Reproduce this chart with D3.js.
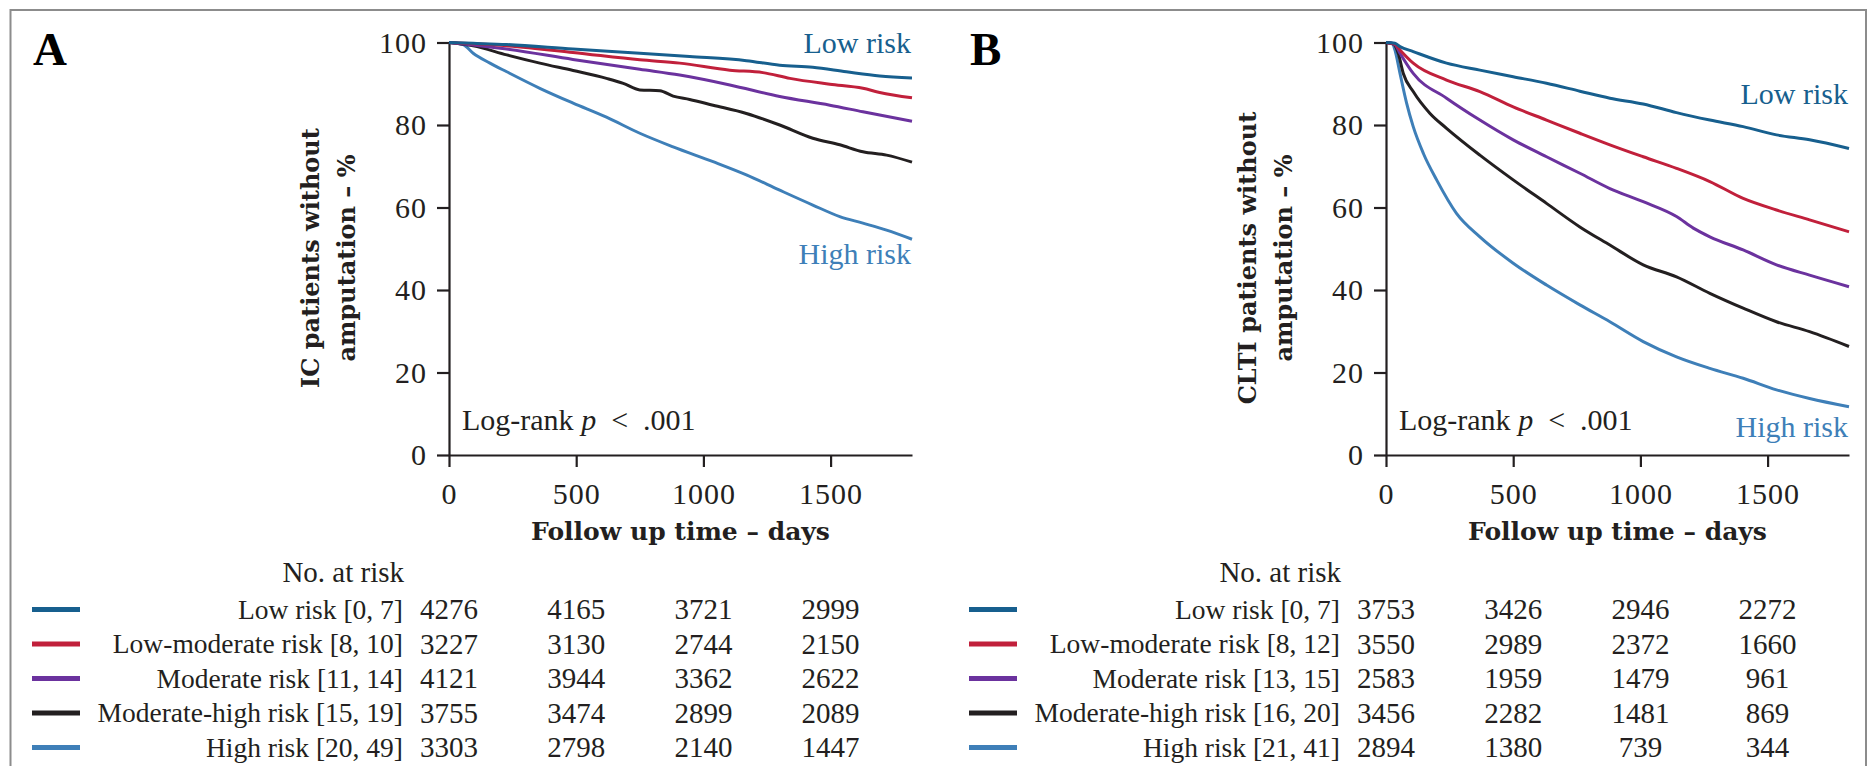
<!DOCTYPE html>
<html>
<head>
<meta charset="utf-8">
<script src="https://cdn.jsdelivr.net/npm/d3@7"></script>
<style>
  body { margin: 0; background: #fff; }
  svg { display: block; }
</style>
</head>
<body>
<div class="chart"></div>
<script>
// survival curves: [day, % without amputation]
const icLow = [[0,100],[95,99.8],[227,99.5],[487,98.4],[750,97.4],[946,96.6],[1169,95.6],[1300,94.5],[1430,94.0],[1562,92.9],[1693,91.9],[1820,91.4]]
const icLowMod = [[0,100],[95,99.7],[227,99.2],[487,97.6],[750,95.8],[907,95.0],[1104,93.3],[1234,92.7],[1340,91.3],[1497,89.9],[1627,88.9],[1693,87.9],[1820,86.6]]
const icMod = [[0,100],[95,99.4],[227,98.4],[487,95.9],[750,93.5],[907,92.1],[1104,89.7],[1300,86.9],[1497,84.8],[1627,83.2],[1820,80.9]]
const icModHigh = [[0,100],[95,99.2],[227,97.0],[357,95.0],[488,93.2],[619,91.3],[685,90.1],[750,88.5],[829,88.3],[881,87.0],[946,86.2],[1038,84.8],[1169,82.8],[1300,80.0],[1430,76.8],[1536,75.2],[1627,73.5],[1720,72.7],[1820,71.0]]
const icHigh = [[0,100],[55,99.5],[95,97.4],[161,95.0],[227,92.9],[357,88.9],[488,85.3],[619,81.9],[750,78.0],[881,74.7],[1038,71.1],[1169,67.9],[1300,64.2],[1430,60.6],[1536,57.8],[1627,56.2],[1720,54.5],[1820,52.3]]

const cltiLow = [[0,100],[35,99.8],[55,99.0],[107,97.8],[238,95.0],[369,93.3],[500,91.7],[631,90.1],[762,88.2],[880,86.5],[1011,85.1],[1142,83.0],[1273,81.2],[1404,79.6],[1535,77.6],[1665,76.4],[1820,74.3]]
const cltiLowMod = [[0,100],[35,99.6],[55,98.2],[107,95.0],[238,90.9],[369,88.1],[500,84.4],[631,81.2],[762,78.0],[880,75.2],[1011,72.3],[1142,69.5],[1273,66.3],[1404,62.2],[1535,59.4],[1665,57.0],[1820,54.1]]
const cltiMod = [[0,100],[35,99.5],[55,97.4],[107,92.5],[238,86.5],[369,81.2],[500,76.4],[631,72.3],[762,68.3],[880,64.6],[1011,61.4],[1142,57.8],[1208,55.0],[1273,52.9],[1404,49.7],[1535,46.1],[1665,43.6],[1820,40.8]]
const cltiModHigh = [[0,100],[30,99.6],[48,97.4],[68,92.5],[107,88.1],[173,82.8],[238,79.2],[369,72.7],[500,66.7],[631,61.0],[762,55.3],[880,50.9],[1011,46.1],[1142,43.2],[1273,39.2],[1404,35.6],[1535,32.3],[1665,29.9],[1820,26.3]]
const cltiHigh = [[0,100],[25,99.8],[35,98.2],[55,92.5],[81,85.3],[107,79.6],[147,73.1],[199,66.7],[277,58.6],[369,52.9],[500,46.5],[631,41.2],[762,36.4],[880,32.3],[1011,27.5],[1142,23.8],[1273,21.0],[1404,18.6],[1535,15.8],[1665,13.7],[1820,11.7]]

// number at risk table
const tickDays = [0, 500, 1000, 1500]
const yTicks = [0, 20, 40, 60, 80, 100]
const icGroups = ["Low risk [0, 7]", "Low-moderate risk [8, 10]", "Moderate risk [11, 14]", "Moderate-high risk [15, 19]", "High risk [20, 49]"]
const icAtRisk = [[4276,4165,3721,2999],[3227,3130,2744,2150],[4121,3944,3362,2622],[3755,3474,2899,2089],[3303,2798,2140,1447]]
const cltiGroups = ["Low risk [0, 7]", "Low-moderate risk [8, 12]", "Moderate risk [13, 15]", "Moderate-high risk [16, 20]", "High risk [21, 41]"]
const cltiAtRisk = [[3753,3426,2946,2272],[3550,2989,2372,1660],[2583,1959,1479,961],[3456,2282,1481,869],[2894,1380,739,344]]

const colors = ["#175f8e", "#c1203b", "#6b329e", "#231f20", "#3e7fb8"]
const serif = "'Liberation Serif', 'Times New Roman', serif"
const slab = "'DejaVu Serif', serif"

const W = 1868, H = 766
const svg = d3.select(".chart").append("svg")
    .attr("width", W)
    .attr("height", H)

// grey frame round the figure
svg.append("rect")
    .attr("x", 10.5).attr("y", 10)
    .attr("width", 1855.5).attr("height", 800)
    .attr("fill", "none")
    .attr("stroke", "#8c8c8c")
    .attr("stroke-width", 2)

function drawPanel(p) {
    const x = d3.scaleLinear().domain([0, 1820]).range([p.x0, p.x0 + 463])
    const y = d3.scaleLinear().domain([0, 100]).range([455, 42.5])

    const g = svg.append("g")

    g.append("text")
        .attr("x", p.x0 - 416).attr("y", 65)
        .attr("font-family", serif).attr("font-weight", "bold")
        .attr("font-size", 47)
        .text(p.letter)

    const yAxis = d3.axisLeft(y).tickValues(yTicks).tickSize(12).tickSizeOuter(0).tickPadding(10)
    const xAxis = d3.axisBottom(x).tickValues(tickDays).tickFormat(d3.format("d"))
        .tickSize(12).tickSizeOuter(0).tickPadding(16)

    const ya = g.append("g").attr("transform", `translate(${p.x0},0)`).call(yAxis)
    const xa = g.append("g").attr("transform", "translate(0,455)").call(xAxis)
    for (const a of [ya, xa]) {
        a.attr("font-family", serif).attr("font-size", 30)
        a.selectAll("path, line").attr("stroke", "#231f20").attr("stroke-width", 2.2)
        a.selectAll("text").attr("fill", "#231f20").attr("letter-spacing", 1)
    }

    // y axis title, two lines
    g.append("text")
        .attr("transform", `translate(${p.x0 - 130},258) rotate(-90)`)
        .attr("text-anchor", "middle")
        .attr("font-family", slab).attr("font-weight", "bold").attr("font-size", 24)
        .attr("fill", "#231f20")
        .text(p.yTitle)
    g.append("text")
        .attr("transform", `translate(${p.x0 - 94},258) rotate(-90)`)
        .attr("text-anchor", "middle")
        .attr("font-family", slab).attr("font-weight", "bold").attr("font-size", 24)
        .attr("fill", "#231f20")
        .text("amputation \u2013 %")

    g.append("text")
        .attr("x", x(910)).attr("y", 540)
        .attr("text-anchor", "middle")
        .attr("font-family", slab).attr("font-weight", "bold").attr("font-size", 25)
        .attr("fill", "#231f20")
        .text("Follow up time \u2013 days")

    const line = d3.line()
        .x(d => x(d[0]))
        .y(d => y(d[1]))
        .curve(d3.curveMonotoneX)

    // draw the low risk curve last so it sits on top like the picture
    p.curves.map((c, i) => ({c, i})).reverse().forEach(({c, i}) => {
        g.append("path")
            .datum(c)
            .attr("fill", "none")
            .attr("stroke", colors[i])
            .attr("stroke-width", 3)
            .attr("stroke-linejoin", "round")
            .attr("d", line)
    })

    g.append("text")
        .attr("x", x(1820) - 1).attr("y", p.lowY)
        .attr("text-anchor", "end")
        .attr("font-family", serif).attr("font-size", 30)
        .attr("fill", colors[0])
        .text("Low risk")
    g.append("text")
        .attr("x", x(1820) - 1).attr("y", p.highY)
        .attr("text-anchor", "end")
        .attr("font-family", serif).attr("font-size", 30)
        .attr("fill", colors[4])
        .text("High risk")

    const lr = g.append("text")
        .attr("x", p.x0 + 13).attr("y", 430)
        .attr("font-family", serif).attr("font-size", 30)
        .attr("fill", "#231f20")
    lr.append("tspan").text("Log-rank ")
    lr.append("tspan").attr("font-style", "italic").text("p")
    lr.append("tspan").text("\u2002<\u2002.001")

    // no. at risk table
    g.append("text")
        .attr("x", p.x0 - 45).attr("y", 582)
        .attr("text-anchor", "end")
        .attr("font-family", serif).attr("font-size", 29)
        .attr("fill", "#231f20")
        .text("No. at risk")

    const rowY = i => 609.5 + i * 34.5
    p.groups.forEach((name, i) => {
        g.append("line")
            .attr("x1", p.x0 - 417).attr("x2", p.x0 - 369)
            .attr("y1", rowY(i)).attr("y2", rowY(i))
            .attr("stroke", colors[i])
            .attr("stroke-width", 5)
        g.append("text")
            .attr("x", p.x0 - 46).attr("y", rowY(i)).attr("dy", "0.33em")
            .attr("text-anchor", "end")
            .attr("font-family", serif).attr("font-size", 27.5)
            .attr("fill", "#231f20")
            .text(name)
        g.selectAll(null)
            .data(p.atRisk[i])
            .enter().append("text")
            .attr("x", (d, j) => x(tickDays[j]))
            .attr("y", rowY(i)).attr("dy", "0.33em")
            .attr("text-anchor", "middle")
            .attr("font-family", serif).attr("font-size", 29)
            .attr("fill", "#231f20")
            .text(d => d)
    })
}

drawPanel({
    letter: "A", x0: 449, yTitle: "IC patients without",
    curves: [icLow, icLowMod, icMod, icModHigh, icHigh],
    groups: icGroups, atRisk: icAtRisk,
    lowY: 53, highY: 264
})

drawPanel({
    letter: "B", x0: 1386, yTitle: "CLTI patients without",
    curves: [cltiLow, cltiLowMod, cltiMod, cltiModHigh, cltiHigh],
    groups: cltiGroups, atRisk: cltiAtRisk,
    lowY: 104, highY: 437
})
</script>
</body>
</html>
